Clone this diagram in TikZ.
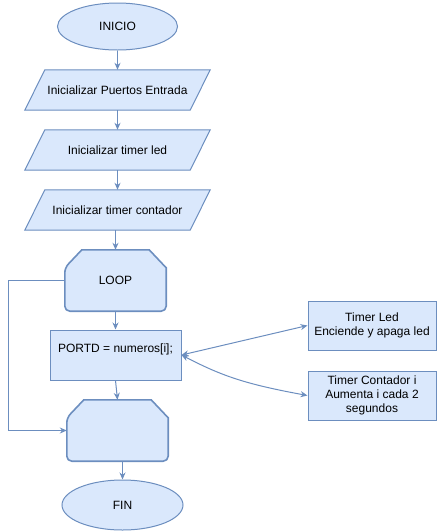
\documentclass[tikz,border=0pt]{standalone}
\usepackage{fontspec}
\setmainfont{Liberation Sans}
\usetikzlibrary{arrows.meta,shapes.geometric,calc,backgrounds}
\definecolor{fillb}{HTML}{DAE8FC}
\definecolor{strk}{HTML}{6C8EBF}
\begin{document}
\begin{tikzpicture}[x=1pt,y=-1pt,
  font=\fontsize{12}{14}\selectfont,
  term/.style={ellipse, draw=strk, fill=fillb, line width=1pt, inner sep=0pt},
  box/.style={rectangle, draw=strk, fill=fillb, line width=1pt, inner sep=0pt, align=center},
  slot/.style={rectangle, inner sep=0pt, align=center},
  outline/.style={draw=strk, fill=fillb, line width=1pt},
  loopline/.style={draw=strk, fill=fillb, line width=1.6pt},
  arr/.style={draw=strk, line width=1pt, -{Stealth[length=7pt,width=6pt]}},
  barr/.style={draw=strk, line width=1pt, {Stealth[length=7pt,width=6pt]}-{Stealth[length=7pt,width=6pt]}}
]
\useasboundingbox (0,0) rectangle (438,531);

\node[term, minimum width=120pt, minimum height=47pt] (inicio) at (117.5,26.5) {INICIO};
\node[slot, minimum width=185pt, minimum height=40pt] (p1) at (117.5,90) {Inicializar Puertos Entrada};
\node[slot, minimum width=185pt, minimum height=40pt] (p2) at (117.5,150) {Inicializar timer led};
\node[slot, minimum width=185pt, minimum height=40pt] (p3) at (117.5,210) {Inicializar timer contador};
\node[slot, minimum width=101pt, minimum height=61pt] (loop) at (115.5,280.5) {LOOP};
\node[box, minimum width=131pt, minimum height=50pt] (portd) at (115.5,355) {PORTD = numeros[i];\\\mbox{}};
\node[slot, minimum width=101pt, minimum height=61pt] (endl) at (117.5,430.5) {};
\node[term, minimum width=121pt, minimum height=50pt] (fin) at (122.5,505) {FIN};
\node[box, minimum width=128pt, minimum height=49pt] (tl) at (372,325.5) {Timer Led\\Enciende y apaga led};
\node[box, minimum width=128pt, minimum height=49pt] (tc) at (372,395.5) {Timer Contador i\\Aumenta i cada 2\\segundos};

\begin{pgfonlayer}{background}
\foreach \n in {p1,p2,p3}{
  \path[outline] (\n.south west) -- ($(\n.north west)+(20,0)$) -- (\n.north east) -- ($(\n.south east)+(-20,0)$) -- cycle;
}
\foreach \n in {loop,endl}{
  \path[loopline] ($(\n.north west)+(17,0)$) -- ($(\n.north east)+(-17,0)$) -- ($(\n.north east)+(0,18)$) [rounded corners=5pt] -- (\n.south east) -- (\n.south west) -- ($(\n.north west)+(0,18)$) [sharp corners] -- cycle;
}
\end{pgfonlayer}

\draw[arr] (inicio) -- (p1);
\draw[arr] (p1) -- (p2);
\draw[arr] (p2) -- (p3);
\draw[arr] (p3.south -| loop.north) -- (loop.north);
\draw[arr] (loop) -- (portd);
\draw[arr] (portd.south) -- (endl.north);
\draw[arr] (fin.north |- endl.south) -- (fin.north);
\coordinate (lp) at (8,280.5);
\draw[arr] (loop.west) -- (lp) |- (endl.west);
\draw[barr] (portd.east) -- (tl.west);
\draw[barr] (portd.east) .. controls (222,376) and (245,384) .. (tc.west);
\end{tikzpicture}
\end{document}
